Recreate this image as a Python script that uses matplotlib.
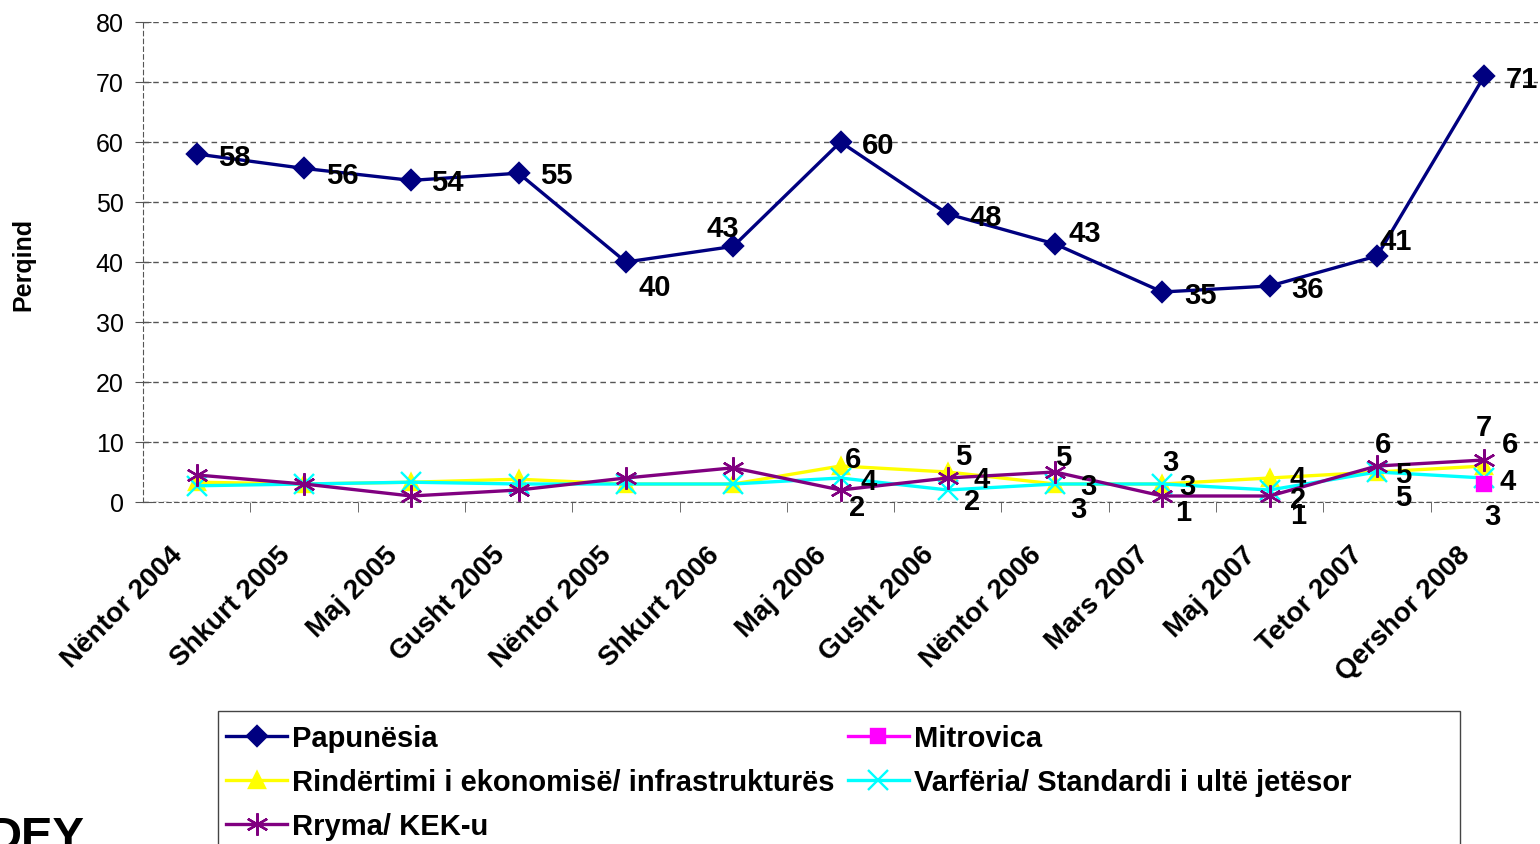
import matplotlib
matplotlib.use("Agg")
import matplotlib.pyplot as plt
from matplotlib.patches import Rectangle
from matplotlib.transforms import ScaledTranslation
from matplotlib.ticker import MultipleLocator, FixedLocator

plt.rcParams["font.family"] = ["Liberation Sans", "DejaVu Sans"]
plt.rcParams["font.weight"] = "bold"

periods = ["Nëntor 2004", "Shkurt 2005", "Maj 2005", "Gusht 2005", "Nëntor 2005",
           "Shkurt 2006", "Maj 2006", "Gusht 2006", "Nëntor 2006", "Mars 2007",
           "Maj 2007", "Tetor 2007", "Qershor 2008"]

papunesia = [58, 55.6, 53.6, 54.8, 40, 42.6, 60, 48, 43, 35, 36, 41, 71]
rindertimi = [3.3, 3, 3.3, 3.8, 3, 3, 6, 5, 3, 3, 4, 5, 6]
varferia = [2.7, 3, 3.3, 3, 3, 3, 4, 2, 3, 3, 2, 5, 4]
rryma = [4.5, 3, 1, 2, 4, 5.7, 2, 4, 5, 1, 1, 6, 7]
mitrovica = [None] * 12 + [3]

# first index from which the small series carry value labels
small_label_start = 6

# label offsets in pixels (dx, dy) relative to each point
pap_off = [(38, -3), (38, -7), (36, -2), (38, -2), (29, -25), (-10, 18), (38, -3),
           (38, -3), (30, 11), (38, -3), (38, -3), (19, 15), (38, -3)]
yel_off = [(12, 7), (15, 16), (23, -25), (8, 22), (28, 0), (26, -25), (26, 22)]
cya_off = [(28, -3), (24, -11), (33, -2), (25, -2), (28, -9), (26, -2), (23, -3)]
pur_off = [(17, -17), (34, -1), (8, 15), (21, -16), (28, -19), (6, 22), (-1, 33)]
mit_off = [(8, -32)]

fig = plt.figure(figsize=(15.4, 8.45), dpi=100)
ax = fig.add_axes([143 / 1540, 342 / 845, 1395 / 1540, 480 / 845])

x = list(range(len(periods)))
PX = 72 / 100  # pixels -> points

series = [
    ("Papunësia", papunesia, "#000080", "D", 10, 2.4),
    ("Rindërtimi i ekonomisë/ infrastrukturës", rindertimi, "#FFFF00", "^", 12, 2.4),
    ("Rryma/ KEK-u", rryma, "#800080", (6, 2, 0), 16, 2.4),
    ("Mitrovica", mitrovica, "#FF00FF", "s", 10, 2.4),
    ("Varfëria/ Standardi i ultë jetësor", varferia, "#00FFFF", "x", 14, 2.4),
]
z = {"Papunësia": 6, "Rryma/ KEK-u": 5, "Varfëria/ Standardi i ultë jetësor": 4,
     "Rindërtimi i ekonomisë/ infrastrukturës": 3, "Mitrovica": 7}

for name, vals, col, mk, ms, lw in series:
    xs = [i for i, v in zip(x, vals) if v is not None]
    ys = [v for v in vals if v is not None]
    ax.plot(xs, ys, color=col, marker=mk, markersize=ms, markeredgecolor=col,
            markeredgewidth=1.7, linewidth=lw, label=name, clip_on=False, zorder=z[name])


def put_labels(vals, offsets, start):
    for k, (dx, dy) in enumerate(offsets):
        i = start + k
        ax.annotate(f"{vals[i]:.0f}", (i, vals[i]), xytext=(dx * PX, dy * PX),
                    textcoords="offset points", ha="center", va="center",
                    fontsize=21, fontweight="bold", zorder=10, annotation_clip=False)


put_labels(papunesia, pap_off, 0)
put_labels(rindertimi, yel_off, small_label_start)
put_labels(varferia, cya_off, small_label_start)
put_labels(rryma, pur_off, small_label_start)
put_labels(mitrovica, mit_off, 12)

ax.set_xlim(-0.5, len(periods) - 0.5)
ax.set_ylim(0, 80)
ax.yaxis.set_major_locator(MultipleLocator(10))
ax.grid(axis="y", linestyle=(0, (4, 3)), color="#555555", linewidth=1)
ax.set_axisbelow(True)

for s in ["top", "right"]:
    ax.spines[s].set_visible(False)
for s in ["left", "bottom"]:
    ax.spines[s].set_linestyle((0, (4, 3)))
    ax.spines[s].set_color("#555555")

ax.tick_params(axis="y", direction="inout", length=12, labelsize=18, color="#555555", pad=8)
ax.set_xticks(x)
ax.set_xticklabels(periods, rotation=45, ha="right", rotation_mode="anchor",
                   fontsize=20, fontweight="bold")
ax.tick_params(axis="x", which="major", length=0, pad=16)
ax.xaxis.set_minor_locator(FixedLocator([i + 0.5 for i in x[:-1]]))
ax.tick_params(axis="x", which="minor", direction="out", length=7, color="#555555")
shift = ScaledTranslation(-27 / 100, -17 / 100, fig.dpi_scale_trans)
for t in ax.get_xticklabels():
    t.set_transform(t.get_transform() + shift)
for t in ax.get_yticklabels():
    t.set_fontweight("normal")

ax.set_ylabel("Perqind", fontsize=18, fontweight="bold")
ax.yaxis.set_label_coords(-0.077, 0.496)

leg = fig.legend(loc="upper left", bbox_to_anchor=(226 / 1540, 1 - 725 / 845),
                 ncol=2, fontsize=21, frameon=False, handlelength=2.1,
                 handletextpad=0.17, labelspacing=0.55, columnspacing=0.45,
                 borderpad=0, borderaxespad=0)
for t in leg.get_texts():
    t.set_fontweight("bold")

fig.patches.append(Rectangle((218 / 1540, -0.05), (1460 - 218) / 1540, 0.05 + 133 / 845,
                             transform=fig.transFigure, fill=False,
                             edgecolor="#444444", linewidth=1))

fig.text(-0.008, 1 - 816 / 845, "DEY", fontsize=34, fontweight="bold",
         family=["Liberation Sans Narrow", "Liberation Sans"], ha="left", va="top")

fig.savefig("out.png", dpi=100)
